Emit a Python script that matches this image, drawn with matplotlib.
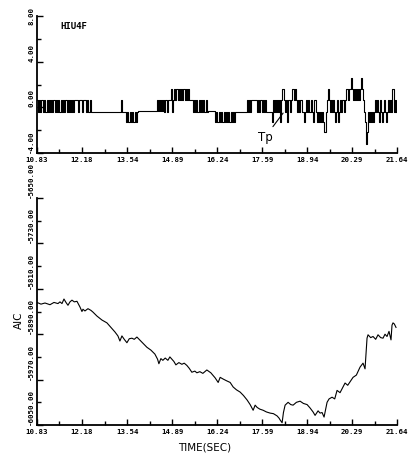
import matplotlib
matplotlib.use('Agg')
import matplotlib.pyplot as plt
import numpy as np

# sampled signal (HIU4F), one sample every dt seconds starting at t_start
t_start = 10.83
dt = 0.03
signal = ([0.6, -0.4, 0.6, -0.4, 0.6, 0.6, -0.4, 0.6, -0.4, -0.4,
           0.6, -0.4, 0.6, -0.4, 0.6, -0.4, 0.6, 0.6, -0.4, 0.6,
           -0.4, 0.6, -0.4, -0.4, 0.6, -0.4, 0.6, -0.4, 0.6, 0.6,
           -0.4, 0.6, -0.4, 0.6, -0.4, 0.6, -0.4, 0.6, 0.6,
           0.6, 0.6, -0.4, 0.6, 0.6, 0.6, -0.4, 0.6, 0.6, 0.6,
           -0.4, 0.6, -0.4, -0.4, 0.6, -0.4, -0.4]
          + [-0.4] * 28
          + [0.6, -0.4, -0.4, -0.4, -0.4]
          + [-1.3, -0.4, -1.3, -1.3, -0.4, -1.3, -0.4, -1.3, -1.3, -0.4, -1.3, -0.4]
          + [-0.3] * 19
          + [0.6, -0.3, 0.6, -0.3, 0.6, -0.3]
          + [0.6, -0.4, 0.6, 0.6, -0.4, 0.6, 0.6, 0.6]
          + [1.6, -0.4, 0.6, 1.6, 0.6, 1.6, 1.6, 0.6, 1.6, 0.6,
             1.6, 0.6, 1.6, 1.6, 0.6, 1.6, 0.6, 1.6]
          + [0.6] * 4
          + [-0.4, 0.6, -0.4, 0.6, -0.4, -0.4, 0.6, -0.4, 0.6, -0.4,
             0.6, -0.4, -0.4, 0.6, -0.4]
          + [-0.3] * 7
          + [-1.3, -0.4, -1.3, -1.3, -0.4, -1.3, -0.4, -1.3, -1.3, -0.4,
             -1.3, -0.4, -1.3, -0.4, -1.3, -1.3, -0.4, -1.3, -0.4, -1.3]
          + [-0.4] * 12
          + [0.6, -0.4, 0.6, -0.4, 0.6, 0.6, 0.6, 0.6, 0.6, 0.6]
          + [-0.4, 0.6, -0.4, 0.6, 0.6, -0.4, 0.6, -0.4, 0.6]
          + [-0.4] * 6
          + [-1.3, 0.6, -0.4, 0.6, -0.4]
          + [0.6, -0.4, 0.6, -1.3, 0.6, 1.6, 1.6, 0.6, -0.4, 0.6,
             -1.3, 0.6, 0.6, -0.4, 0.6, 1.6, 1.6, 0.6, 1.6, 0.6,
             -0.4, 0.6, -0.4, 0.6, 0.6, -0.4, -0.4, -1.3, -0.4, 0.6,
             -0.4, 0.6, -0.4, -0.4, 0.6, -0.4, -1.3, 0.6, 0.6, -0.4,
             -1.3, -0.4, -1.3, -0.4, -1.3, -0.4, -1.3, -2.2, -2.2, -0.4,
             0.6, 1.6, 0.6, -0.4, 0.6, -0.4, 0.6, -0.4, -1.3, -0.4,
             0.6, -1.3, -0.4, 0.6, -0.4, 0.6, 0.6, -0.4, 0.6, 1.6,
             1.6, 0.6, 1.6, 1.6, 2.6, 1.6, 0.6, 1.6, 0.6, 1.6,
             0.6, 1.6, 0.6, 1.6, 2.6, 1.6, 0.6, -0.4, -1.3, -3.2,
             -2.2, -0.4, -1.3, -0.4, -1.3, -0.4, -1.3, -0.4, 0.6, -0.4,
             0.6, -0.4, -1.3, 0.6, -0.4, -1.3, -0.4, 0.6, -0.4, -1.3,
             -0.4, 0.6, -0.4, 0.6, -0.4, 1.6, 1.6, -0.4, 0.6, -0.4])

# AIC curve
aic_t = [10.83, 10.95, 11.07, 11.22, 11.34, 11.46, 11.52, 11.58, 11.64, 11.70,
         11.76, 11.82, 11.88, 11.95, 12.03, 12.12, 12.18, 12.21, 12.27, 12.36,
         12.45, 12.51, 12.63, 12.78, 12.93, 13.05, 13.17, 13.26, 13.32, 13.38,
         13.45, 13.53, 13.60, 13.68, 13.75, 13.83, 13.98, 14.13, 14.25, 14.37,
         14.45, 14.49, 14.55, 14.61, 14.68, 14.76, 14.82, 14.88, 14.94, 15.00,
         15.09, 15.18, 15.25, 15.33, 15.40, 15.48, 15.57, 15.63, 15.72, 15.81,
         15.93, 16.05, 16.18, 16.27, 16.33, 16.42, 16.52, 16.63, 16.72, 16.82,
         16.93, 17.03, 17.14, 17.23, 17.32, 17.38, 17.44, 17.52, 17.62, 17.72,
         17.83, 17.93, 18.04, 18.10, 18.13, 18.19, 18.23, 18.28, 18.37, 18.45,
         18.52, 18.62, 18.73, 18.83, 18.94, 19.03, 19.12, 19.18, 19.27, 19.33,
         19.39, 19.45, 19.54, 19.60, 19.69, 19.77, 19.84, 19.93, 20.00, 20.08,
         20.16, 20.23, 20.32, 20.42, 20.53, 20.62, 20.68, 20.74, 20.77, 20.85,
         20.92, 21.00, 21.07, 21.15, 21.22, 21.28, 21.34, 21.40, 21.46, 21.49,
         21.52, 21.56, 21.61]
aic = [-5834, -5837, -5835, -5838, -5834, -5836, -5833, -5836, -5828, -5834,
       -5839, -5833, -5830, -5833, -5832, -5842, -5850, -5846, -5849, -5845,
       -5848, -5851, -5858, -5865, -5870, -5878, -5886, -5893, -5902, -5893,
       -5899, -5905, -5898, -5897, -5899, -5895, -5904, -5913, -5918, -5925,
       -5934, -5942, -5933, -5936, -5932, -5936, -5930, -5934, -5938, -5944,
       -5940, -5943, -5941, -5945, -5950, -5957, -5955, -5958, -5956, -5959,
       -5953, -5958, -5967, -5975, -5966, -5969, -5972, -5975, -5983, -5988,
       -5992, -5998, -6006, -6014, -6024, -6015, -6019, -6022, -6024, -6027,
       -6029, -6030, -6034, -6038, -6041, -6046, -6028, -6015, -6010, -6014,
       -6015, -6010, -6008, -6012, -6014, -6020, -6027, -6033, -6025, -6029,
       -6028, -6036, -6010, -6004, -6001, -6004, -5989, -5993, -5985, -5976,
       -5980, -5974, -5966, -5962, -5948, -5941, -5951, -5897, -5891, -5896,
       -5894, -5899, -5891, -5896, -5897, -5890, -5894, -5885, -5900, -5874,
       -5870, -5872, -5878]

x_ticks = [10.83, 12.18, 13.54, 14.89, 16.24, 17.59, 18.94, 20.29, 21.64]
top_yticks = [-4.0, 0.0, 4.0, 8.0]
aic_yticks = [-6050.0, -5970.0, -5890.0, -5810.0, -5730.0, -5650.0]

t = t_start + dt * np.arange(len(signal))

tick_font = dict(family='DejaVu Sans Mono', size=5.3, weight='bold')

fig = plt.figure(figsize=(4.12, 4.55), dpi=100)
ax1 = fig.add_axes([0.0898, 0.6637, 0.8738, 0.3011])
ax2 = fig.add_axes([0.0898, 0.0659, 0.8738, 0.4989])


def style(ax, yticks):
    for s in ['top', 'right']:
        ax.spines[s].set_visible(False)
    for s in ['left', 'bottom']:
        ax.spines[s].set_linewidth(1.3)
    ax.set_xlim(x_ticks[0], x_ticks[-1])
    ax.set_ylim(yticks[0], yticks[-1])
    ax.set_xticks(x_ticks)
    ax.set_xticklabels(['%.2f' % v for v in x_ticks], fontdict=tick_font)
    ax.set_xticks([(a + b) / 2 for a, b in zip(x_ticks[:-1], x_ticks[1:])], minor=True)
    ax.set_yticks(yticks)
    ax.set_yticklabels(['%.2f' % v for v in yticks], fontdict=tick_font,
                       rotation=90, va='bottom')
    ax.set_yticks([(a + b) / 2 for a, b in zip(yticks[:-1], yticks[1:])], minor=True)
    ax.tick_params(which='both', direction='in', width=1.0, color='black')
    ax.tick_params(which='major', length=4, pad=3)
    ax.tick_params(which='minor', length=3)
    ax.tick_params(axis='y', pad=2)


ax1.plot(t, signal, drawstyle='steps-post', color='black', lw=0.8)
style(ax1, top_yticks)
# keep the topmost label inside the figure
ax1.get_yticklabels()[-1].set_va('center')
ax1.text(11.52, 7.1, 'HIU4F', fontdict=dict(family='DejaVu Sans Mono', size=6.5, weight='bold'),
         va='center', ha='left')
ax1.annotate('Tp', xy=(18.22, -0.5), xytext=(17.68, -2.6), fontsize=8.5,
             ha='center', va='center',
             arrowprops=dict(arrowstyle='-', color='black', lw=0.8, shrinkA=1, shrinkB=0))

ax2.plot(aic_t, aic, color='black', lw=0.8)
style(ax2, aic_yticks)

fig.text(205 / 412, 1 - 448 / 455, 'TIME(SEC)', fontsize=7.5, ha='center', va='center')
fig.text(19 / 412, 1 - 320 / 455, 'AIC', fontsize=7.5, rotation=90, ha='center', va='center')

fig.savefig('out.png', dpi=100)
